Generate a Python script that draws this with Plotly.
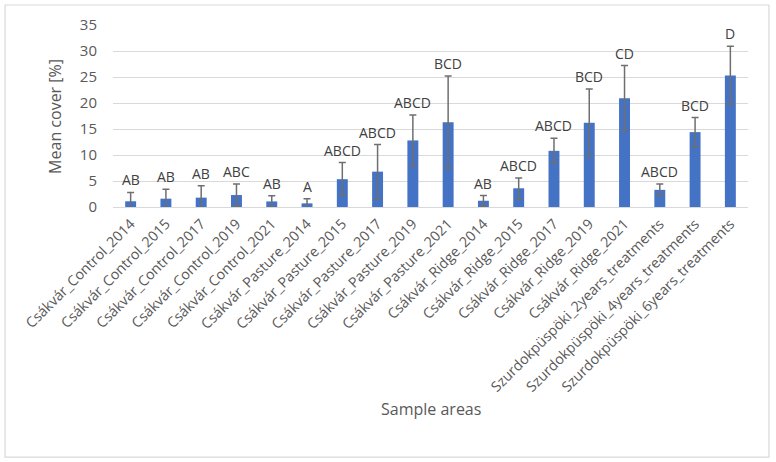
import plotly.graph_objects as go

categories = [
    "Csákvár_Control_2014", "Csákvár_Control_2015", "Csákvár_Control_2017",
    "Csákvár_Control_2019", "Csákvár_Control_2021", "Csákvár_Pasture_2014",
    "Csákvár_Pasture_2015", "Csákvár_Pasture_2017", "Csákvár_Pasture_2019",
    "Csákvár_Pasture_2021", "Csákvár_Ridge_2014", "Csákvár_Ridge_2015",
    "Csákvár_Ridge_2017", "Csákvár_Ridge_2019", "Csákvár_Ridge_2021",
    "Szurdokpüspöki_2years_treatments", "Szurdokpüspöki_4years_treatments",
    "Szurdokpüspöki_6years_treatments",
]
mean_cover = [1.1, 1.6, 1.8, 2.3, 1.07, 0.7, 5.35, 6.8, 12.8, 16.3,
              1.2, 3.6, 10.8, 16.2, 20.9, 3.3, 14.4, 25.3]
errors = [1.7, 1.8, 2.3, 2.1, 1.1, 0.9, 3.2, 5.2, 4.9, 8.9,
          1.0, 2.0, 2.4, 6.5, 6.3, 1.1, 2.8, 5.6]
group_labels = ["AB", "AB", "AB", "ABC", "AB", "A", "ABCD", "ABCD", "ABCD", "BCD",
                "AB", "ABCD", "ABCD", "BCD", "CD", "ABCD", "BCD", "D"]
y_ticks = [0, 5, 10, 15, 20, 25, 30, 35]

FONT = "Open Sans"
GRAY = "#595959"

fig = go.Figure()
fig.add_trace(go.Bar(
    x=categories, y=mean_cover,
    marker=dict(color="#4472C4", line=dict(width=0)),
    error_y=dict(type="data", array=errors, visible=True,
                 color="#6f6f6f", thickness=1.5, width=3.5),
))

for c, m, e, lab in zip(categories, mean_cover, errors, group_labels):
    fig.add_annotation(x=c, y=m + e, text=lab, showarrow=False,
                       yanchor="bottom", yshift=1,
                       font=dict(family=FONT, size=14, color="#404040"))

fig.add_annotation(xref="paper", yref="paper", x=-0.112, y=0.5,
                   text="Mean cover [%]", textangle=-90, showarrow=False,
                   font=dict(family=FONT, size=16, color=GRAY))
fig.add_annotation(xref="paper", yref="paper", x=0.5, y=-1.18,
                   text="Sample areas", showarrow=False,
                   font=dict(family=FONT, size=16, color=GRAY))

fig.add_shape(type="rect", xref="paper", yref="paper",
              x0=-0.170, x1=1.033, y0=-1.374, y1=1.11,
              line=dict(color="#d9d9d9", width=1.2))

fig.update_layout(
    width=776, height=462,
    margin=dict(l=113, r=28, t=25, b=255, autoexpand=False),
    paper_bgcolor="white", plot_bgcolor="white",
    bargap=0.69, showlegend=False,
    font=dict(family=FONT, size=14, color=GRAY),
)
fig.update_xaxes(tickangle=-45, showgrid=False, showline=True, automargin=False,
                 linecolor="#d9d9d9", linewidth=1,
                 ticks="outside", ticklen=2, tickcolor="rgba(0,0,0,0)",
                 tickfont=dict(family=FONT, size=14.3, color=GRAY))
fig.update_yaxes(range=[0, 35], tickvals=y_ticks, showgrid=True, automargin=False,
                 gridcolor="#d9d9d9", gridwidth=1, zeroline=False, showline=False,
                 ticks="outside", ticklen=12, tickcolor="rgba(0,0,0,0)",
                 tickfont=dict(family=FONT, size=15, color=GRAY))

fig.write_html(
    "out.html",
    config={"displayModeBar": False},
    post_script="document.body.style.margin='0';document.body.style.overflow='hidden';",
)
